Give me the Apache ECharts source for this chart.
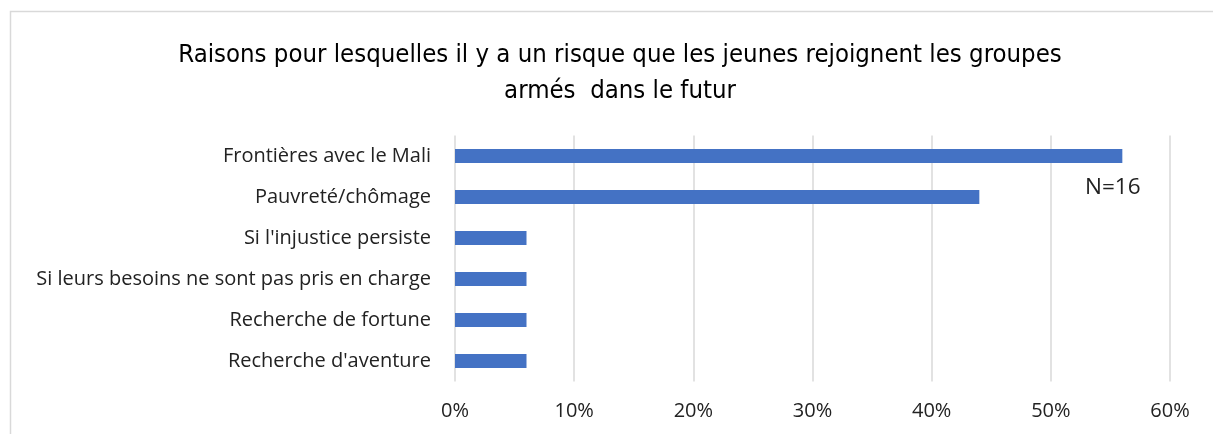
<!DOCTYPE html>
<html>
<head>
<meta charset="utf-8">
<script src="https://cdn.jsdelivr.net/npm/echarts@6/dist/echarts.min.js"></script>
<style>
  html, body { margin: 0; padding: 0; background: #fff; }
  #echarts_main { width: 1213px; height: 434px; }
</style>
</head>
<body>
<div id="echarts_main"></div>
<script>
// raisons (du bas vers le haut, comme dans l'axe)
const categories = [
  "Recherche d'aventure",
  "Recherche de fortune",
  "Si leurs besoins ne sont pas pris en charge",
  "Si l'injustice persiste",
  "Pauvreté/chômage",
  "Frontières avec le Mali"
];
// pourcentages (N=16)
const values = [6, 6, 6, 6, 44, 56];
const xTicks = [0, 10, 20, 30, 40, 50, 60];

const chart = echarts.init(document.getElementById("echarts_main"));

const option = {
  animation: false,
  title: {
    text: "Raisons pour lesquelles il y a un risque que les jeunes rejoignent les groupes\narmés  dans le futur",
    left: 615,
    top: 32,
    textAlign: "center",
    textStyle: {
      fontFamily: "Liberation Sans Narrow, DejaVu Sans Condensed, Open Sans",
      fontSize: 25.5,
      fontWeight: "normal",
      color: "#000",
      lineHeight: 36
    }
  },
  grid: {
    left: 455,
    right: 43,
    top: 135.5,
    bottom: 52.5,
    containLabel: false
  },
  xAxis: {
    type: "value",
    min: xTicks[0],
    max: xTicks[xTicks.length - 1],
    interval: 10,
    axisLine: { show: false },
    axisTick: { show: false },
    splitLine: { show: true, lineStyle: { color: "#d9d9d9", width: 1.5 } },
    axisLabel: {
      formatter: "{value}%",
      margin: 20,
      fontFamily: "Open Sans",
      fontSize: 20,
      color: "#222"
    }
  },
  yAxis: {
    type: "category",
    data: categories,
    axisLine: { show: false },
    axisTick: { show: false },
    axisLabel: {
      margin: 24,
      fontFamily: "Open Sans",
      fontSize: 20,
      color: "#222"
    }
  },
  graphic: [
    {
      type: "rect",
      shape: { x: 10.5, y: 11.5, width: 1220, height: 440 },
      style: { fill: "none", stroke: "#d9d9d9", lineWidth: 1.5 },
      silent: true
    },
    {
      type: "text",
      left: 1085,
      top: 176,
      style: {
        text: "N=16",
        fontFamily: "Open Sans",
        fontSize: 22.5,
        fill: "#222"
      }
    }
  ],
  series: [
    {
      type: "bar",
      data: values,
      barWidth: 14,
      itemStyle: { color: "#4472C4" }
    }
  ]
};

chart.setOption(option);

window.addEventListener("resize", () => {
  chart.resize();
});
</script>
</body>
</html>
